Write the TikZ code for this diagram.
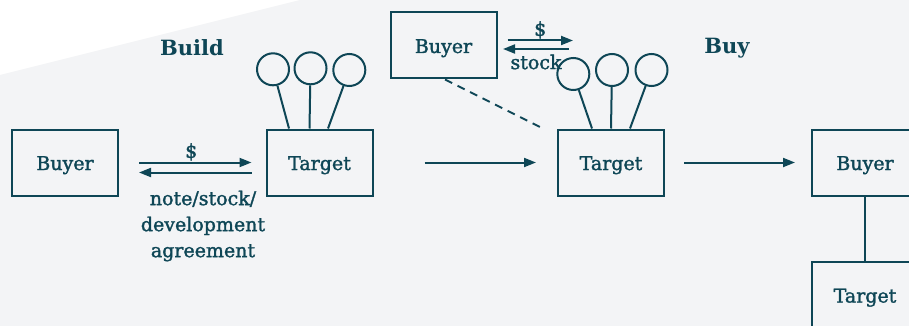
\documentclass[tikz,border=0pt]{standalone}
\usepackage{fontspec}
\setmainfont{DejaVu Serif}
\newfontfamily\diagramfont{DejaVu Serif}[FakeBold=1.6]
\usetikzlibrary{arrows.meta, positioning}
\definecolor{deepteal}{RGB}{14,70,86}
\definecolor{pagegray}{RGB}{243,244,246}

\begin{document}
\begin{tikzpicture}[
    x=1pt, y=-1pt,
    box/.style = {rectangle, minimum width=106pt, minimum height=66pt, draw=deepteal,
                  line width=2pt, text=deepteal, text height=15pt, text depth=0pt,
                  font=\diagramfont\fontsize{19}{24}\selectfont},
    lolly/.style = {circle, minimum size=32pt, inner sep=0pt, draw=deepteal, line width=2pt},
    stick/.style = {draw=deepteal, line width=2pt},
    arrow/.style = {-{Triangle[length=12pt, width=9pt]}, draw=deepteal, line width=2pt},
    lbl/.style = {text=deepteal, font=\diagramfont\fontsize{19}{26}\selectfont, align=center, inner sep=1pt},
    heading/.style = {text=deepteal, font=\fontsize{21}{24}\selectfont\bfseries}
]

% Page and background
\useasboundingbox (0,0) rectangle (909,326);
\clip (0,0) rectangle (909,326);
\fill[pagegray] (0,75) -- (300,0) -- (909,0) -- (909,326) -- (0,326) -- cycle;

% Headings
\node (buildtitle) [heading] at (192,48) {Build};
\node (buytitle) [heading] at (727,48) {Buy};

% Nodes - Build
\node (buyerA) [box] at (65,162.5) {Buyer};
\node (targetA) [box] at (319.5,162.5) {Target};
\node (popA1) [lolly] at (273,69.3) {};
\node (popA2) [lolly] at (310.5,68.3) {};
\node (popA3) [lolly] at (349.3,70) {};

% Nodes - Buy
\node (buyerB) [box] at (443.5,45.5) {Buyer};
\node (targetB) [box] at (611,162.5) {Target};
\node (popB1) [lolly] at (573.3,74) {};
\node (popB2) [lolly] at (612,70) {};
\node (popB3) [lolly] at (651.5,70) {};
\node (buyerC) [box] at (865,162.5) {Buyer};
\node (targetC) [box] at (865,295) {Target};

% Free ends
\coordinate (dashend) at (540,127);
\coordinate (payout) at (573,40.5);
\coordinate (stockin) at (503,49);

% Lollipops
\draw [stick] (popA1) -- ([xshift=-30.5pt]targetA.north);
\draw [stick] (popA2) -- ([xshift=-10pt]targetA.north);
\draw [stick] (popA3) -- ([xshift=8.5pt]targetA.north);
\draw [stick] (popB1) -- ([xshift=-19pt]targetB.north);
\draw [stick] (popB2) -- ([xshift=0pt]targetB.north);
\draw [stick] (popB3) -- ([xshift=19pt]targetB.north);

% Arrows - Build
\draw [arrow] ([xshift=20pt]buyerA.east) -- node[lbl, midway, above, xshift=-4pt] {\$} ([xshift=-14pt]targetA.west);
\draw [arrow] ([shift={(-14,10)}]targetA.west) -- ([shift={(20,10)}]buyerA.east);
\node (dealterms) [lbl] at (203,226) {note/stock/\\development\\agreement};

% Arrows - Buy
\draw [arrow] ([shift={(10,-5)}]buyerB.east) -- node[lbl, midway, above] {\$} (payout);
\draw [arrow] ([shift={(71,3.5)}]buyerB.east) -- (stockin);
\node (stocklabel) [lbl] at (536,62) {stock};
\draw [stick, dash pattern=on 8pt off 6pt] ([xshift=1.5pt]buyerB.south) -- (dashend);
\draw [arrow] ([xshift=51pt]targetA.east) -- ([xshift=-21pt]targetB.west);
\draw [arrow] ([xshift=19pt]targetB.east) -- ([xshift=-16pt]buyerC.west);
\draw [stick] (buyerC) -- (targetC);

\end{tikzpicture}
\end{document}
